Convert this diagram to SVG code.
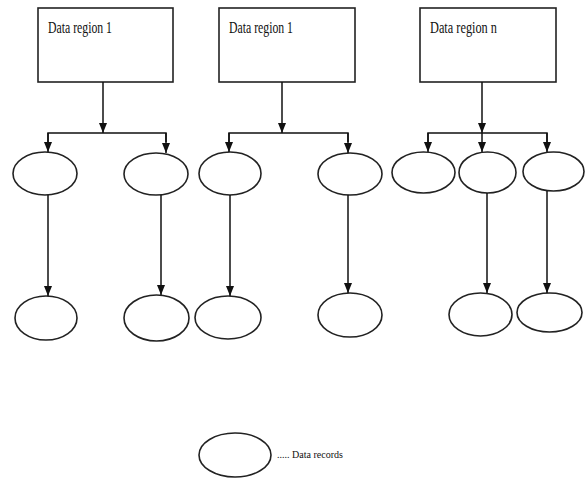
<svg xmlns="http://www.w3.org/2000/svg" width="585" height="481" viewBox="0 0 585 481">
<style>
.box{fill:#fff;stroke:#222;stroke-width:1.6}
.rec{fill:#fff;stroke:#222;stroke-width:1.6}
.ln{fill:none;stroke:#111;stroke-width:1.5}
.ar{fill:none;stroke:#111;stroke-width:1.5;marker-end:url(#ah)}
.t{font-family:"Liberation Serif","Times New Roman",serif;font-size:16px;fill:#111}
.lg{font-family:"Liberation Serif","Times New Roman",serif;font-size:10px;fill:#111}
</style>
<defs>
<marker id="ah" markerUnits="userSpaceOnUse" markerWidth="10" markerHeight="10" viewBox="0 0 10 10" refX="10" refY="5" orient="auto">
<path d="M0,1 L10,5 L0,9 Z" fill="#111"/>
</marker>
</defs>
<rect width="585" height="481" fill="#fff"/>
<g id="region1">
<rect class="box" x="38" y="8" width="135" height="74"/>
<text class="t" x="48" y="33" textLength="64" lengthAdjust="spacingAndGlyphs">Data region 1</text>
</g>
<g id="region2">
<rect class="box" x="219" y="8" width="136" height="74"/>
<text class="t" x="229" y="33" textLength="64" lengthAdjust="spacingAndGlyphs">Data region 1</text>
</g>
<g id="regionn">
<rect class="box" x="420" y="8" width="136" height="74"/>
<text class="t" x="430" y="33" textLength="67" lengthAdjust="spacingAndGlyphs">Data region n</text>
</g>
<g id="a1"><ellipse class="rec" cx="45" cy="173.5" rx="32" ry="21.5"/></g>
<g id="a2"><ellipse class="rec" cx="156" cy="174" rx="32" ry="21"/></g>
<g id="b1"><ellipse class="rec" cx="46" cy="318" rx="31" ry="22"/></g>
<g id="b2"><ellipse class="rec" cx="156.5" cy="318" rx="32.5" ry="23"/></g>
<g id="c1"><ellipse class="rec" cx="230" cy="173.5" rx="31" ry="21.5"/></g>
<g id="c2"><ellipse class="rec" cx="350" cy="174" rx="32" ry="21"/></g>
<g id="d1"><ellipse class="rec" cx="228" cy="317.5" rx="33" ry="21.5"/></g>
<g id="d2"><ellipse class="rec" cx="350" cy="315" rx="32" ry="22"/></g>
<g id="e1"><ellipse class="rec" cx="423.5" cy="172.5" rx="31.5" ry="20.5"/></g>
<g id="e2"><ellipse class="rec" cx="487.5" cy="172.5" rx="28.5" ry="20.5"/></g>
<g id="e3"><ellipse class="rec" cx="553.5" cy="171.5" rx="30.5" ry="19.5"/></g>
<g id="f1"><ellipse class="rec" cx="480.5" cy="314.5" rx="31.5" ry="21.5"/></g>
<g id="f2"><ellipse class="rec" cx="549.5" cy="312.5" rx="32.5" ry="19.5"/></g>
<g id="legend">
<ellipse class="rec" cx="235" cy="455" rx="36" ry="22"/>
<text class="lg" x="277" y="458" textLength="66" lengthAdjust="spacingAndGlyphs">..... Data records</text>
</g>
<g id="connectors">
<line class="ar" x1="103" y1="82" x2="103" y2="133"/>
<polyline class="ln" points="48,142 48,133 166,133 166,142"/>
<line class="ar" x1="48" y1="133" x2="48" y2="152"/>
<line class="ar" x1="166" y1="133" x2="166" y2="153"/>
<line class="ar" x1="48" y1="195" x2="48" y2="296"/>
<line class="ar" x1="161" y1="195" x2="161" y2="295"/>
<line class="ar" x1="282" y1="82" x2="282" y2="133"/>
<polyline class="ln" points="229,142 229,133 348,133 348,142"/>
<line class="ar" x1="229" y1="133" x2="229" y2="152"/>
<line class="ar" x1="348" y1="133" x2="348" y2="153"/>
<line class="ar" x1="230" y1="195" x2="230" y2="296"/>
<line class="ar" x1="348" y1="195" x2="348" y2="293"/>
<line class="ar" x1="482" y1="82" x2="482" y2="133"/>
<polyline class="ln" points="428,142 428,133 547,133 547,142"/>
<line class="ar" x1="428" y1="133" x2="428" y2="152"/>
<line class="ar" x1="482" y1="133" x2="482" y2="152"/>
<line class="ar" x1="547" y1="133" x2="547" y2="152"/>
<line class="ar" x1="487" y1="193" x2="487" y2="293"/>
<line class="ar" x1="547" y1="191" x2="547" y2="293"/>
</g>
</svg>
